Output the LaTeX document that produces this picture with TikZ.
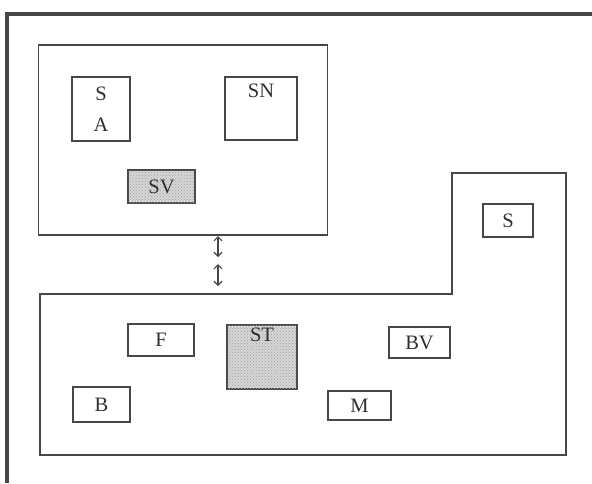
\documentclass[tikz,border=0pt]{standalone}
\usepackage{fontspec}
\setmainfont{Liberation Serif}
\usetikzlibrary{arrows.meta,patterns}
\definecolor{ink}{HTML}{474747}
\definecolor{txt}{HTML}{2E2E2E}
\definecolor{shade}{HTML}{D6D6D6}
\begin{document}
\begin{tikzpicture}[x=1pt,y=-1pt,
  lbl/.style={font=\fontsize{20.5}{24}\selectfont, text=txt},
  every node/.style={lbl},
  box/.style={draw=ink, line width=1.3pt, inner sep=0pt, minimum width=#1},
  box/.default=60pt,
  shaded/.style={fill=shade, postaction={pattern=crosshatch dots, pattern color=gray!75}},
  area/.style={draw=ink, line width=1.4pt},
  dbl/.style={draw=ink, line width=1.2pt, {Straight Barb[length=4pt,width=8pt]}-{Straight Barb[length=4pt,width=8pt]}}
]
\useasboundingbox (0,0) rectangle (592,483);
% outer frame
\draw[ink, line width=3.2pt] (7,483) -- (7,14) -- (592,14);
% upper area
\node[area, minimum width=289pt, minimum height=190pt, inner sep=0pt] (upper) at (183,140) {};
% lower L-shaped area
\draw[area] (40,294) coordinate (lowtop) -- (452,294) -- (452,173) -- (566,173) -- (566,455) -- (40,455) -- cycle;
% boxes in upper area
\node[box=58pt, minimum height=64pt, align=center] (sa) at (101,109) {S\\[7pt]A};
\node[box=72pt, minimum height=63pt, label={[anchor=north,inner sep=7pt,lbl]north:SN}] (sn) at (261,108.5) {};
\node[box=67pt, minimum height=33pt, shaded] (sv) at (161.5,186.5) {SV};
% boxes in lower area
\node[box=50pt, minimum height=33pt] (s) at (508,220.5) {S};
\node[box=66pt, minimum height=32pt] (f) at (161,340) {F};
\node[box=70pt, minimum height=64pt, shaded, label={[anchor=north,inner sep=3pt,lbl]north:ST}] (st) at (262,357) {};
\node[box=61pt, minimum height=31pt] (bv) at (419.5,342.5) {BV};
\node[box=57pt, minimum height=35pt] (b) at (101.5,404.5) {B};
\node[box=63pt, minimum height=29pt] (m) at (359.5,405.5) {M};
% connectors between the areas
\coordinate (a1) at (218,236);
\coordinate (a2) at (218,257);
\coordinate (a3) at (218,264);
\coordinate (a4) at (218,286);
\draw[dbl] (a1) -- (a2);
\draw[dbl] (a3) -- (a4);
\end{tikzpicture}
\end{document}
